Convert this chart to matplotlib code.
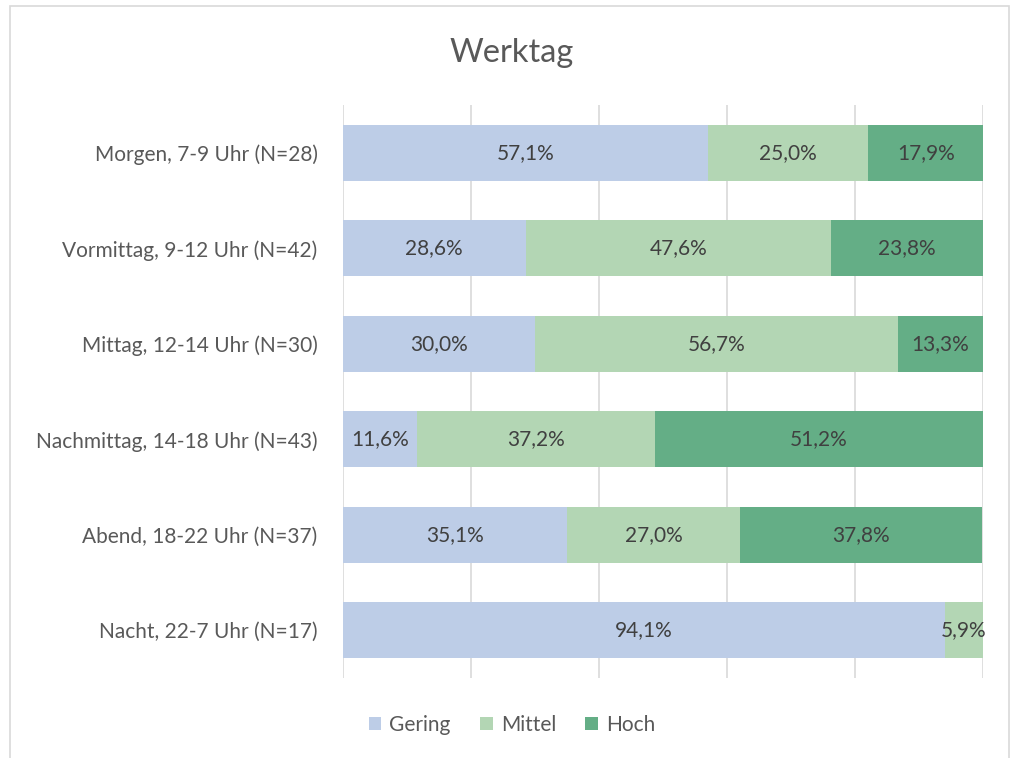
import matplotlib.pyplot as plt
from matplotlib.patches import Rectangle

plt.rcParams['font.family'] = ['Lato', 'DejaVu Sans']

# ------------------------------------------------------------
# Data
# ------------------------------------------------------------
categories = [
    "Morgen, 7-9 Uhr (N=28)",
    "Vormittag, 9-12 Uhr (N=42)",
    "Mittag, 12-14 Uhr (N=30)",
    "Nachmittag, 14-18 Uhr (N=43)",
    "Abend, 18-22 Uhr (N=37)",
    "Nacht, 22-7 Uhr (N=17)",
]
gering = [57.1, 28.6, 30.0, 11.6, 35.1, 94.1]
mittel = [25.0, 47.6, 56.7, 37.2, 27.0, 5.9]
hoch = [17.9, 23.8, 13.3, 51.2, 37.8, 0.0]

series = [("Gering", gering, "#BDCDE7"),
          ("Mittel", mittel, "#B3D6B4"),
          ("Hoch", hoch, "#64AE86")]

# ------------------------------------------------------------
# Plot
# ------------------------------------------------------------
fig = plt.figure(figsize=(10.14, 7.58), dpi=100)
fig.patches.append(Rectangle((0.010, -0.01), 0.985, 1.002, transform=fig.transFigure,
                             fill=False, edgecolor="#D9D9D9", lw=1.2))
ax = fig.add_axes([0.338, 0.1055, 0.6314, 0.756])

y = list(range(len(categories)))
left = [0.0] * len(categories)
for name, vals, col in series:
    ax.barh(y, vals, left=left, height=0.59, color=col, label=name, zorder=2)
    for i, v in enumerate(vals):
        if v > 0:
            ax.text(left[i] + v / 2, i, f"{v:.1f}".replace(".", ",") + "%",
                    ha="center", va="center", fontsize=15, color="#404040", zorder=3)
    left = [l + v for l, v in zip(left, vals)]

ax.set_xlim(0, 100)
ax.set_ylim(len(categories) - 0.5, -0.5)
ax.set_xticks([0, 20, 40, 60, 80, 100])
ax.set_xticklabels([])
ax.tick_params(axis="x", length=0)
ax.tick_params(axis="y", length=0, pad=18)
ax.set_yticks(y)
ax.set_yticklabels(categories, fontsize=15, color="#595959")
ax.grid(axis="x", color="#D9D9D9", lw=1.2, zorder=0)
for s in ax.spines.values():
    s.set_visible(False)

fig.text(0.505, 0.93, "Werktag", ha="center", va="center", fontsize=23.5, color="#595959")

fig.legend(loc="center", bbox_to_anchor=(0.505, 0.044), ncol=3, frameon=False,
           fontsize=15, labelcolor="#595959", handlelength=0.6, handleheight=0.6,
           handletextpad=0.4, columnspacing=1.4)

fig.savefig("out.png", dpi=100, facecolor="white")
